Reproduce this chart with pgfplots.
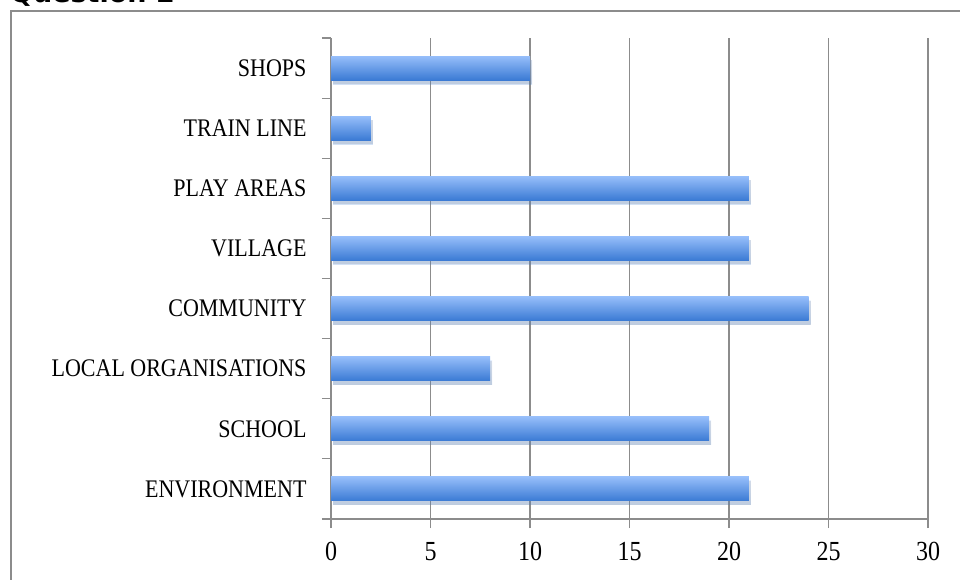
\documentclass[border=0pt]{standalone}
\usepackage{pgfplots}
\pgfplotsset{compat=1.18}
\usepackage{fontspec}
\setmainfont{Liberation Serif}
\newfontfamily\titlefont{DejaVu Sans}
\usetikzlibrary{shadows}
\definecolor{barlight}{RGB}{150,190,250}
\definecolor{bardark}{RGB}{58,122,212}
\definecolor{gridgray}{RGB}{140,140,140}
\newcommand\tl[1]{\scalebox{1}[1.15]{#1}}

\begin{document}
\begin{tikzpicture}[x=1pt,y=1pt]
\useasboundingbox (0,0) rectangle (960,579);
\fill[white] (0,0) rectangle (960,579);
\draw[gridgray, line width=2pt] (11,-20) -- (11,568) -- (980,568);
\node[anchor=base west, inner sep=0pt, font=\titlefont\bfseries\fontsize{27}{30}\selectfont] at (10,576) {Question 2};
\begin{axis}[
    at={(331pt,60pt)}, anchor=south west,
    scale only axis, width=597pt, height=481pt,
    xmin=0, xmax=30, ymin=-0.5, ymax=7.5,
    axis x line*=bottom, axis y line*=left,
    x axis line style={draw=gridgray, line width=2pt, -},
    y axis line style={draw=gridgray, line width=1.3pt, -},
    xtick={0,5,...,30},
    xmajorgrids, major grid style={draw=gridgray, line width=1.1pt},
    tick align=outside, major tick length=9pt,
    tick style={draw=gridgray, line width=1.2pt},
    ytick={-0.5,0.5,...,7.5}, yticklabels={},
    extra y ticks={0,...,7},
    extra y tick labels={\tl{ENVIRONMENT},\tl{SCHOOL},\tl{LOCAL ORGANISATIONS},\tl{COMMUNITY},\tl{VILLAGE},\tl{PLAY AREAS},\tl{TRAIN LINE},\tl{SHOPS}},
    extra y tick style={major tick length=0pt, grid=none},
    yticklabel style={font=\fontsize{22}{26}\selectfont, xshift=-21pt},
    xticklabel style={font=\fontsize{24}{28}\selectfont, yshift=-11pt},
    xticklabel={\tl{\pgfmathprintnumber[assume math mode=true]{\tick}}},
    bar/.style={xbar, bar width=24pt, draw=none, top color=barlight, bottom color=bardark,
      drop shadow={shadow xshift=2pt, shadow yshift=-4pt, opacity=0.22}},
  ]
\addplot[bar] coordinates {(21,0)}; % ENVIRONMENT
\addplot[bar] coordinates {(19,1)}; % SCHOOL
\addplot[bar] coordinates {(8,2)};  % LOCAL ORGANISATIONS
\addplot[bar] coordinates {(24,3)}; % COMMUNITY
\addplot[bar] coordinates {(21,4)}; % VILLAGE
\addplot[bar] coordinates {(21,5)}; % PLAY AREAS
\addplot[bar] coordinates {(2,6)};  % TRAIN LINE
\addplot[bar] coordinates {(10,7)}; % SHOPS
\end{axis}
\end{tikzpicture}
\end{document}
